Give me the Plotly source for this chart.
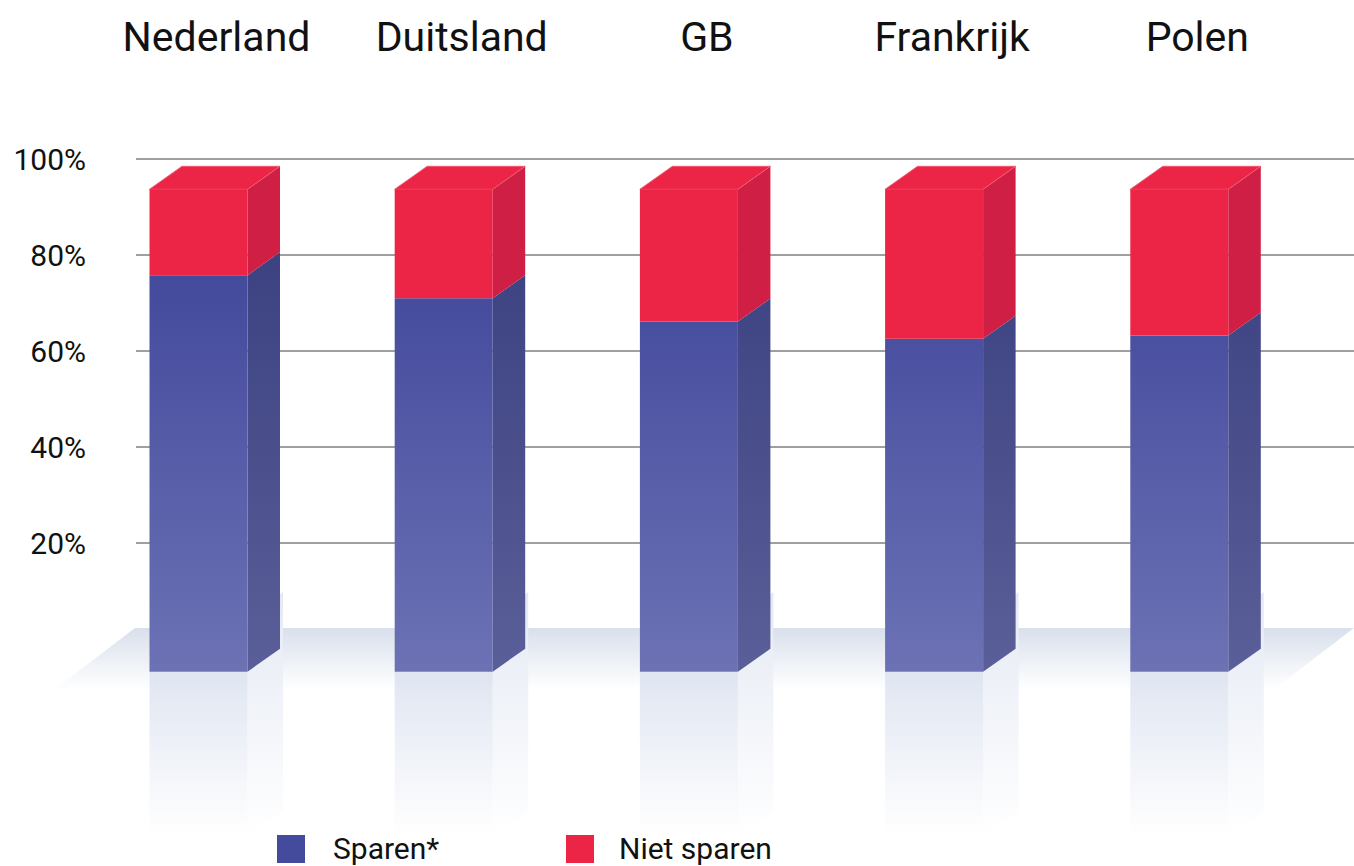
import plotly.graph_objects as go

# ---------------- data ----------------
categories = ["Nederland", "Duitsland", "GB", "Frankrijk", "Polen"]
sparen = [82.2, 77.4, 72.6, 69.0, 69.7]
niet_sparen = [17.8, 22.6, 27.4, 31.0, 30.3]
series_names = ["Sparen*", "Niet sparen"]
y_tick_values = [20, 40, 60, 80, 100]
y_tick_labels = ["20%", "40%", "60%", "80%", "100%"]

# ---------------- style / geometry ----------------
FONT = "Roboto"
W, H = 1354, 866
M_TOP = 70
PLOT_H = H - M_TOP

SLOT_PX = 245.2          # px per category slot
FIRST_CENTER_PX = 198.5  # px of first front-face centre
X_MIN = -FIRST_CENTER_PX / SLOT_PX
X_MAX = X_MIN + W / SLOT_PX

GRID_PX = 4.8            # px per % on the back (grid) plane
GRID_ZERO_PX = 639
Y_MAX = (GRID_ZERO_PX - M_TOP) / GRID_PX
Y_MIN = Y_MAX - PLOT_H / GRID_PX

FRONT_PX = 4.824         # px per % on the front plane
FRONT_ZERO_PX = 671.7
Y2_MAX = (FRONT_ZERO_PX - M_TOP) / FRONT_PX
Y2_MIN = Y2_MAX - PLOT_H / FRONT_PX

HALF_W = 49 / SLOT_PX
DX = 32.5 / SLOT_PX
DY = 23 / FRONT_PX
LABEL_SHIFT = 18 / SLOT_PX


def px2x(px):
    return X_MIN + px / SLOT_PX


def px2y2(py):
    return (FRONT_ZERO_PX - py) / FRONT_PX


BLUE_FRONT = [[0, "#6c72b4"], [1, "#40469a"]]
BLUE_SIDE = [[0, "#5a5f99"], [1, "#3b4080"]]
RED_FRONT = "#EC2445"
RED_SIDE = "#CF1F44"
RED_TOP = "#EC2546"
BLUE_LEG = "#444A9C"

xs = list(range(len(categories)))


def front_faces(lo, hi):
    px, py = [], []
    for c, a, b in zip(xs, lo, hi):
        px += [c - HALF_W, c + HALF_W, c + HALF_W, c - HALF_W, c - HALF_W, None]
        py += [a, a, b, b, a, None]
    return px, py


def side_faces(lo, hi):
    px, py = [], []
    for c, a, b in zip(xs, lo, hi):
        x0, x1 = c + HALF_W, c + HALF_W + DX
        px += [x0, x1, x1, x0, x0, None]
        py += [a, a + DY, b + DY, b, a, None]
    return px, py


def top_faces(hi):
    px, py = [], []
    for c, b in zip(xs, hi):
        px += [c - HALF_W, c + HALF_W, c + HALF_W + DX, c - HALF_W + DX, c - HALF_W, None]
        py += [b, b, b + DY, b + DY, b, None]
    return px, py


zeros = [0 for _ in sparen]
blue_top = [s for s in sparen]
red_top = [s + n for s, n in zip(sparen, niet_sparen)]

fig = go.Figure()

# floor plane
floor_x = [px2x(135), X_MAX, px2x(1273), px2x(54), px2x(135)]
floor_y = [px2y2(628), px2y2(628), px2y2(690), px2y2(690), px2y2(628)]
fig.add_trace(go.Scatter(
    x=floor_x, y=floor_y, yaxis="y2", mode="lines", fill="toself",
    line=dict(width=0, color="rgba(0,0,0,0)"),
    fillgradient=dict(type="vertical", colorscale=[[0, "#ffffff"], [1, "#d9e0ec"]],
                      start=px2y2(690), stop=px2y2(628)),
    hoverinfo="skip", showlegend=False))

# reflections
rf_x, rf_y = [], []
rs_x, rs_y = [], []
refl_bottom = px2y2(835)
side_top = px2y2(592)
for c in xs:
    rf_x += [c - HALF_W, c + HALF_W, c + HALF_W, c - HALF_W, c - HALF_W, None]
    rf_y += [0, 0, refl_bottom, refl_bottom, 0, None]
    x0, x1 = c + HALF_W, c + HALF_W + DX + 3 / SLOT_PX
    rs_x += [x0, x1, x1, x0, x0, None]
    rs_y += [side_top - DY, side_top, refl_bottom + DY, refl_bottom, side_top - DY, None]
fig.add_trace(go.Scatter(
    x=rs_x, y=rs_y, yaxis="y2", mode="lines", fill="toself",
    line=dict(width=0, color="rgba(0,0,0,0)"),
    fillgradient=dict(type="vertical", colorscale=[[0, "#ffffff"], [1, "#e4e9f3"]],
                      start=refl_bottom, stop=side_top),
    hoverinfo="skip", showlegend=False))
fig.add_trace(go.Scatter(
    x=rf_x, y=rf_y, yaxis="y2", mode="lines", fill="toself",
    line=dict(width=0, color="rgba(0,0,0,0)"),
    fillgradient=dict(type="vertical", colorscale=[[0, "#ffffff"], [1, "#dfe5f1"]],
                      start=refl_bottom, stop=0),
    hoverinfo="skip", showlegend=False))

# grid lines (back plane)
gx, gy = [], []
for v in y_tick_values:
    gx += [px2x(136), X_MAX + 1, None]
    gy += [v, v, None]
fig.add_trace(go.Scatter(x=gx, y=gy, mode="lines", line=dict(color="#7f7f7f", width=1.5),
                         hoverinfo="skip", showlegend=False))

# bars: side faces
sx, sy = side_faces(zeros, blue_top)
fig.add_trace(go.Scatter(x=sx, y=sy, yaxis="y2", mode="lines", fill="toself",
                         line=dict(width=0, color="rgba(0,0,0,0)"),
                         fillgradient=dict(type="vertical", colorscale=BLUE_SIDE, start=0, stop=90),
                         name=series_names[0], hoverinfo="skip", showlegend=False))
sx, sy = side_faces(blue_top, red_top)
fig.add_trace(go.Scatter(x=sx, y=sy, yaxis="y2", mode="lines", fill="toself",
                         fillcolor=RED_SIDE, line=dict(width=0, color=RED_SIDE),
                         name=series_names[1], hoverinfo="skip", showlegend=False))
# top faces
tx, ty = top_faces(red_top)
fig.add_trace(go.Scatter(x=tx, y=ty, yaxis="y2", mode="lines", fill="toself",
                         fillcolor=RED_TOP, line=dict(width=1, color="#f25a72"),
                         name=series_names[1], hoverinfo="skip", showlegend=False))
# front faces
fx, fy = front_faces(zeros, blue_top)
fig.add_trace(go.Scatter(x=fx, y=fy, yaxis="y2", mode="lines", fill="toself",
                         line=dict(width=0, color="rgba(0,0,0,0)"),
                         fillgradient=dict(type="vertical", colorscale=BLUE_FRONT, start=0, stop=90),
                         name=series_names[0], hoverinfo="skip", showlegend=False))
fx, fy = front_faces(blue_top, red_top)
fig.add_trace(go.Scatter(x=fx, y=fy, yaxis="y2", mode="lines", fill="toself",
                         fillcolor=RED_FRONT, line=dict(width=0, color=RED_FRONT),
                         name=series_names[1], hoverinfo="skip", showlegend=False))

# custom legend (large swatches)
leg_colors = [BLUE_LEG, RED_FRONT]
leg_sq_px = [277, 566]
leg_txt_px = [331, 617]


def py2paper(py):
    return (H - py) / PLOT_H


for name, col, sq, tx_ in zip(series_names, leg_colors, leg_sq_px, leg_txt_px):
    fig.add_shape(type="rect", xref="paper", yref="paper",
                  x0=sq / W, x1=(sq + 28) / W, y0=py2paper(863), y1=py2paper(835),
                  fillcolor=col, line=dict(width=0))
    fig.add_annotation(text=name, xref="paper", yref="paper", x=tx_ / W, y=py2paper(848),
                       xanchor="left", yanchor="middle", showarrow=False,
                       font=dict(family=FONT, size=30, color="#111111"))

fig.update_layout(
    width=W, height=H,
    margin=dict(l=0, r=0, t=M_TOP, b=0),
    paper_bgcolor="white", plot_bgcolor="white",
    showlegend=False,
    xaxis=dict(range=[X_MIN, X_MAX], domain=[0, 1], side="top",
               tickvals=[c + LABEL_SHIFT for c in xs], ticktext=categories,
               ticks="", ticklabelstandoff=10,
               tickfont=dict(family=FONT, size=41, color="#111111"),
               showgrid=False, zeroline=False, showline=False, fixedrange=True),
    yaxis=dict(range=[Y_MIN, Y_MAX], anchor="free", position=136 / W,
               tickvals=y_tick_values, ticktext=y_tick_labels,
               ticks="outside", ticklen=44, tickcolor="rgba(0,0,0,0)",
               tickfont=dict(family=FONT, size=30, color="#111111"),
               showgrid=False, zeroline=False, showline=False, fixedrange=True),
    yaxis2=dict(range=[Y2_MIN, Y2_MAX], overlaying="y", anchor="x", visible=False,
                fixedrange=True),
)

fig.write_html("out.html", config={"displayModeBar": False, "staticPlot": True},
               post_script="document.body.style.margin='0';document.body.style.overflow='hidden';")
